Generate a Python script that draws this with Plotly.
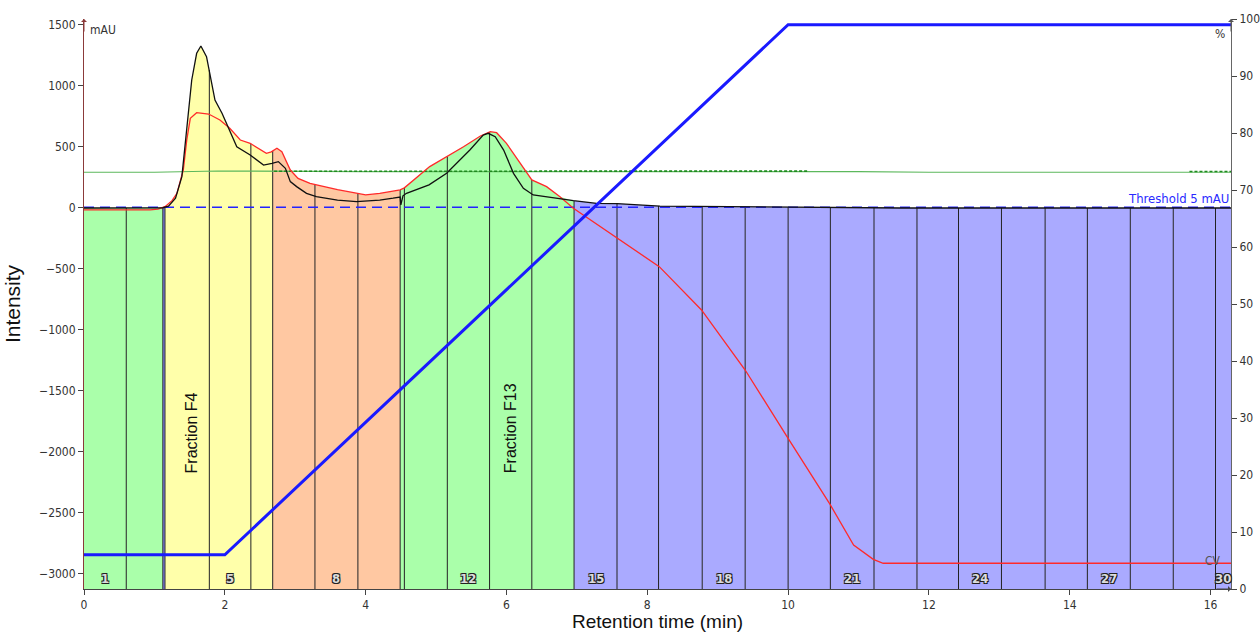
import numpy as np
import plotly.graph_objects as go

# ---------------- data ----------------
uv_black_x = [0, 0.5, 1.0, 1.12, 1.2, 1.3, 1.39, 1.46, 1.53, 1.60, 1.66, 1.74, 1.79, 1.86, 1.96,
              2.07, 2.17, 2.36, 2.55, 2.67, 2.76, 2.86, 2.93, 3.02, 3.16, 3.30, 3.6, 3.87, 4.2,
              4.39, 4.49, 4.50, 4.53, 4.58, 4.9, 5.15, 5.35, 5.48, 5.67, 5.74, 5.84, 5.96, 6.1,
              6.24, 6.38, 6.67, 6.95, 7.28, 7.57, 8.18, 9.0, 9.98, 10.8, 11.6, 16.29]
uv_black_y = [0, 0, 0, 2, 15, 80, 257, 640, 1049, 1268, 1328, 1240, 1104, 885, 776,
              640, 502, 434, 352, 366, 380, 325, 216, 175, 120, 93, 65, 52, 65,
              80, 90, 25, 100, 120, 190, 284, 400, 475, 598, 612, 584, 475, 284,
              161, 107, 80, 60, 38, 36, 16, 12, 6, 4, 0, 0]

uv_red_x = [0, 0.94, 1.05, 1.15, 1.25, 1.32, 1.41, 1.46, 1.51, 1.60, 1.77, 1.93, 2.07, 2.22,
            2.36, 2.59, 2.66, 2.74, 2.81, 2.93, 3.04, 3.21, 3.6, 4.0, 4.2, 4.49, 4.55, 4.91,
            5.39, 5.63, 5.77, 5.86, 6.0, 6.19, 6.36, 6.57, 6.76, 6.95, 7.23, 7.57, 8.17,
            8.77, 9.39, 10.0, 10.6, 10.93, 11.21, 11.35, 16.29]
uv_red_y = [-15, -16, -10, 11, 60, 120, 311, 560, 735, 781, 770, 721, 653, 557,
            530, 448, 460, 489, 461, 311, 243, 202, 150, 107, 120, 148, 165, 339,
            502, 590, 625, 617, 530, 366, 230, 175, 93, -3, -112, -240, -481,
            -836, -1328, -1888, -2434, -2762, -2880, -2912, -2912]

cond_x = [0, 1.0, 1.9, 2.7, 4.0, 6.0, 8.0, 10.0, 11.0, 12.0, 13.0, 14.0, 15.0, 16.29]
cond_y = [293, 293, 303, 300, 298, 298, 300, 300, 298, 293, 292, 296, 293, 293]

cond2_x1 = [2.7, 4.0, 6.0, 8.0, 10.27]
cond2_y1 = [301, 300, 300, 302, 302]
cond2_x2 = [15.7, 16.29]
cond2_y2 = [299, 299]

grad_x = [0, 2.0, 10.0, 16.29]
grad_y = [6, 6, 99, 99]

threshold = 5

frac_bounds = [0, 0.60, 1.12, 1.15, 1.78, 2.37, 2.68, 3.28, 3.89, 4.49, 4.55, 5.16, 5.76,
               6.36, 6.96, 7.57, 8.16, 8.78, 9.39, 10.0, 10.6, 11.22, 11.83, 12.42, 13.03,
               13.65, 14.25, 14.86, 15.47, 16.07, 16.29]
frac_groups = ["g", "g", "b", "y", "y", "y", "o", "o", "o", "g", "g", "g", "g", "g",
               "p", "p", "p", "p", "p", "p", "p", "p", "p", "p", "p", "p", "p", "p", "p", "p"]
frac_labels_shown = [1, 5, 8, 12, 15, 18, 21, 24, 27, 30]
named_fractions = ["Fraction F4", "Fraction F13"]
named_fraction_x = [1.53, 6.05]

x_ticks = [0, 2, 4, 6, 8, 10, 12, 14, 16]
y_ticks = [-3000, -2500, -2000, -1500, -1000, -500, 0, 500, 1000, 1500]
y2_ticks = [0, 10, 20, 30, 40, 50, 60, 70, 80, 90, 100]

# ---------------- styling ----------------
XMAX = 16.29
YMIN, YMAX = -3123, 1549
group_colors = {"g": "#aaffaa", "b": "#8c8cff", "y": "#ffffaa", "o": "#ffc8a2", "p": "#aaaaff"}
COND = "DejaVu Sans Condensed, DejaVu Sans"
TICKFONT = dict(family=COND, size=12, color="#333333")

fig = go.Figure()

# envelope of the two UV traces (fill top)
gx = np.union1d(np.array(uv_black_x), np.array(uv_red_x))
gx = np.union1d(gx, np.array(frac_bounds))
env = np.maximum(np.interp(gx, uv_black_x, uv_black_y), np.interp(gx, uv_red_x, uv_red_y))

for i in range(len(frac_bounds) - 1):
    a, b = frac_bounds[i], frac_bounds[i + 1]
    m = (gx >= a) & (gx <= b)
    px = list(gx[m])
    py = list(env[m])
    xs = px + [b, a, a]
    ys = py + [YMIN, YMIN, py[0]]
    fig.add_trace(go.Scatter(x=xs, y=ys, mode="lines", fill="toself",
                             fillcolor=group_colors[frac_groups[i]],
                             line=dict(width=0), hoverinfo="skip", showlegend=False))

# fraction boundary lines (from bottom up to the trace envelope)
vx, vy = [], []
for a in frac_bounds[1:-1]:
    top = float(np.interp(a, gx, env))
    vx += [a, a, None]
    vy += [YMIN, top, None]
fig.add_trace(go.Scatter(x=vx, y=vy, mode="lines", line=dict(color="#222222", width=1),
                         hoverinfo="skip", showlegend=False))

# conductivity lines
fig.add_trace(go.Scatter(x=cond_x, y=cond_y, mode="lines",
                         line=dict(color="#5cb85c", width=1.2), showlegend=False))
fig.add_trace(go.Scatter(x=cond2_x1, y=cond2_y1, mode="lines",
                         line=dict(color="#1f8a1f", width=1.6, dash="3px,2px"), showlegend=False))
fig.add_trace(go.Scatter(x=cond2_x2, y=cond2_y2, mode="lines",
                         line=dict(color="#1f8a1f", width=1.6, dash="3px,2px"), showlegend=False))

# threshold
fig.add_trace(go.Scatter(x=[0, XMAX], y=[threshold, threshold], mode="lines",
                         line=dict(color="#2323ff", width=1.5, dash="10px,6px"), showlegend=False))

# UV traces
fig.add_trace(go.Scatter(x=uv_red_x, y=uv_red_y, mode="lines",
                         line=dict(color="#ff2a2a", width=1.3), showlegend=False))
fig.add_trace(go.Scatter(x=uv_black_x, y=uv_black_y, mode="lines",
                         line=dict(color="#111111", width=1.3), showlegend=False))

# gradient on right axis
fig.add_trace(go.Scatter(x=grad_x, y=grad_y, mode="lines", yaxis="y2",
                         line=dict(color="#1a1aff", width=3), showlegend=False))

annotations = []
# fraction number labels
for n in frac_labels_shown:
    a, b = frac_bounds[n - 1], frac_bounds[n]
    annotations.append(dict(x=(a + b) / 2, y=-3040, xref="x", yref="y", text=f"<b>{n}</b>",
                            showarrow=False,
                            font=dict(family=COND, size=13, color="#dcdcdc",
                                      shadow="1px 1px 0 #222, -1px -1px 0 #222, 1px -1px 0 #222, -1px 1px 0 #222")))
# named fractions
for name, fx in zip(named_fractions, named_fraction_x):
    annotations.append(dict(x=fx, y=-2190, xref="x", yref="y",
                            text=name, textangle=-90, showarrow=False, yanchor="bottom",
                            font=dict(family="Liberation Sans, Arial", size=16, color="#111111")))
# threshold label
annotations.append(dict(x=XMAX, y=threshold, xref="x", yref="y", text=f"Threshold {threshold} mAU",
                        showarrow=False, xanchor="right", yanchor="bottom", yshift=-1,
                        font=dict(family=COND, size=13, color="#2a2aff")))
# unit labels
annotations.append(dict(x=0, y=YMAX, xref="x", yref="y", text="mAU", showarrow=False,
                        xanchor="left", yanchor="top", xshift=4, yshift=-2,
                        font=dict(family=COND, size=12, color="#333333")))
annotations.append(dict(x=1, y=1, xref="paper", yref="paper", text="%", showarrow=False,
                        xanchor="right", yanchor="top", xshift=-4, yshift=-6,
                        font=dict(family=COND, size=12, color="#333333")))
annotations.append(dict(x=XMAX, y=YMIN, xref="x", yref="y", text="CV", showarrow=False,
                        xanchor="right", yanchor="bottom", xshift=-8, yshift=19,
                        font=dict(family=COND, size=12, color="#555555")))
# axis arrows
annotations.append(dict(x=0, y=YMAX, xref="x", yref="y", ax=0, ay=14, showarrow=True, text="",
                        arrowhead=1, arrowwidth=1, arrowsize=1, arrowcolor="#8b3a3a"))
annotations.append(dict(x=1, y=1, xref="paper", yref="paper", ax=0, ay=14, showarrow=True, text="",
                        arrowhead=1, arrowwidth=1, arrowsize=1, arrowcolor="#555555"))
annotations.append(dict(x=XMAX, y=YMIN, xref="x", yref="y", ax=-16, ay=0, showarrow=True, text="",
                        arrowhead=1, arrowwidth=1, arrowsize=1, arrowcolor="#444444"))

fig.update_layout(
    width=1260, height=632,
    margin=dict(l=84, r=29, t=19, b=43, autoexpand=False),
    paper_bgcolor="white", plot_bgcolor="white",
    showlegend=False,
    annotations=annotations,
    xaxis=dict(range=[0, XMAX], tickvals=x_ticks, ticks="outside", ticklen=5, tickcolor="#444",
               showline=True, linecolor="#444444", linewidth=1, showgrid=False, zeroline=False,
               tickfont=TICKFONT,
               title=dict(text="Retention time (min)", standoff=4,
                          font=dict(family="Liberation Sans, Arial", size=19, color="#111111"))),
    yaxis=dict(range=[YMIN, YMAX], tickvals=y_ticks, ticks="outside", ticklen=5, tickcolor="#444",
               showline=True, linecolor="#8b3a3a", linewidth=1, showgrid=False, zeroline=False,
               tickfont=TICKFONT,
               title=dict(text="Intensity", standoff=12,
                          font=dict(family="Liberation Sans, Arial", size=21, color="#111111"))),
    yaxis2=dict(range=[0, 100], tickvals=y2_ticks, overlaying="y", side="right", ticks="outside",
                ticklen=5, tickcolor="#444", showline=True, linecolor="#666666", linewidth=1,
                showgrid=False, zeroline=False, tickfont=TICKFONT),
)

fig.write_html("out.html", config={"displayModeBar": False},
               post_script="document.body.style.margin='0';document.body.style.overflow='hidden';")
